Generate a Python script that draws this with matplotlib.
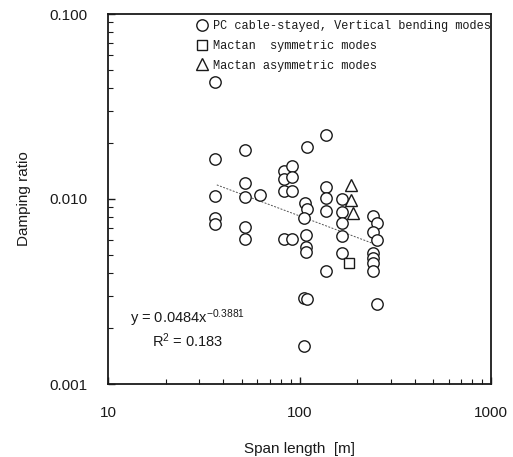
import numpy as np
import matplotlib
matplotlib.use("Agg")
import matplotlib.pyplot as plt

# ---- data ----
pc_span = [36, 36, 36, 36, 36,
           52, 52, 52, 52, 52,
           62,
           83, 83, 83, 83,
           91, 91, 91, 91,
           110, 107, 110, 106, 108, 108, 108, 106, 109, 106,
           137, 137, 137, 137, 137,
           166, 166, 166, 166, 166,
           242, 254, 242, 254, 242, 242, 242, 242, 254]
pc_damp = [0.0429, 0.0164, 0.0104, 0.0079, 0.0073,
           0.0184, 0.0122, 0.0103, 0.0071, 0.0061,
           0.0105,
           0.0141, 0.0129, 0.0111, 0.0061,
           0.0151, 0.0132, 0.0111, 0.0061,
           0.0191, 0.0095, 0.0088, 0.0079, 0.0064, 0.0055, 0.0052, 0.0029, 0.00288, 0.0016,
           0.0222, 0.0116, 0.0101, 0.0086, 0.0041,
           0.0100, 0.0085, 0.0074, 0.0063, 0.0051,
           0.0081, 0.0074, 0.0066, 0.0060, 0.0051, 0.0048, 0.0045, 0.0041, 0.0027]
sym_span = [181]
sym_damp = [0.0045]
asym_span = [185, 185, 190]
asym_damp = [0.0119, 0.0099, 0.0084]
fit_a = 0.0484
fit_b = -0.3881
fit_range = [37, 245]
r2 = 0.183

x_ticks = [10, 100, 1000]
x_ticklabels = ["10", "100", "1000"]
y_ticks = [0.001, 0.01, 0.1]
y_ticklabels = ["0.001", "0.010", "0.100"]

labels = ["PC cable-stayed, Vertical bending modes",
          "Mactan  symmetric modes",
          "Mactan asymmetric modes"]

# ---- style ----
plt.rcParams['font.family'] = ['Liberation Sans', 'DejaVu Sans']
plt.rcParams['mathtext.fontset'] = 'custom'
plt.rcParams['mathtext.rm'] = 'Liberation Sans'
plt.rcParams['mathtext.it'] = 'Liberation Sans:italic'
plt.rcParams['mathtext.bf'] = 'Liberation Sans:bold'

ink = '#1a1a1a'
fig = plt.figure(figsize=(5.13, 4.57), dpi=100)
ax = fig.add_axes([108/513, 73/457, 383/513, 370/457])

mk = dict(linestyle='none', markerfacecolor='white', markeredgecolor=ink,
          markeredgewidth=1.0)
h1, = ax.plot(pc_span, pc_damp, marker='o', markersize=8.2, **mk)
h2, = ax.plot(sym_span, sym_damp, marker='s', markersize=7.5, **mk)
h3, = ax.plot(asym_span, asym_damp, marker='^', markersize=9, **mk)

xf = np.logspace(np.log10(fit_range[0]), np.log10(fit_range[1]), 50)
ax.plot(xf, fit_a * xf ** fit_b, linestyle=(0, (2.0, 1.5)), color='#555555',
        linewidth=0.7, zorder=1)

ax.set_xscale('log')
ax.set_yscale('log')
ax.set_xlim(10, 1000)
ax.set_ylim(0.001, 0.1)
ax.set_xticks(x_ticks)
ax.set_xticklabels(x_ticklabels)
ax.set_yticks(y_ticks)
ax.set_yticklabels(y_ticklabels)
ax.tick_params(which='major', direction='in', length=5, width=1.0,
               labelsize=11, color=ink, labelcolor=ink)
ax.tick_params(which='minor', direction='in', length=3.5, width=0.8, color=ink)
ax.tick_params(axis='x', which='major', pad=16)
ax.tick_params(axis='y', which='major', pad=15)
for s in ax.spines.values():
    s.set_linewidth(1.3)
    s.set_color(ink)

ax.set_xlabel("Span length  [m]", fontsize=11, labelpad=16, color=ink)
ax.set_ylabel("Damping ratio", fontsize=11, labelpad=13, color=ink)

leg = ax.legend([h1, h2, h3], labels, loc='upper left',
                bbox_to_anchor=(0.222, 0.99), frameon=False,
                prop={'family': 'Liberation Mono', 'size': 8.6},
                handlelength=1.1, handletextpad=0.35, labelspacing=0.65,
                borderpad=0.2, borderaxespad=0)
for t in leg.get_texts():
    t.set_color(ink)

ax.text(0.057, 0.178, r"y = 0.0484x$^{\mathregular{-0.3881}}$",
        transform=ax.transAxes, fontsize=10.5, va='center', ha='left', color=ink)
ax.text(0.115, 0.116, r"R$^{\mathregular{2}}$ = %.3f" % r2,
        transform=ax.transAxes, fontsize=10.5, va='center', ha='left', color=ink)

fig.savefig("out.png", dpi=100, facecolor='white')
